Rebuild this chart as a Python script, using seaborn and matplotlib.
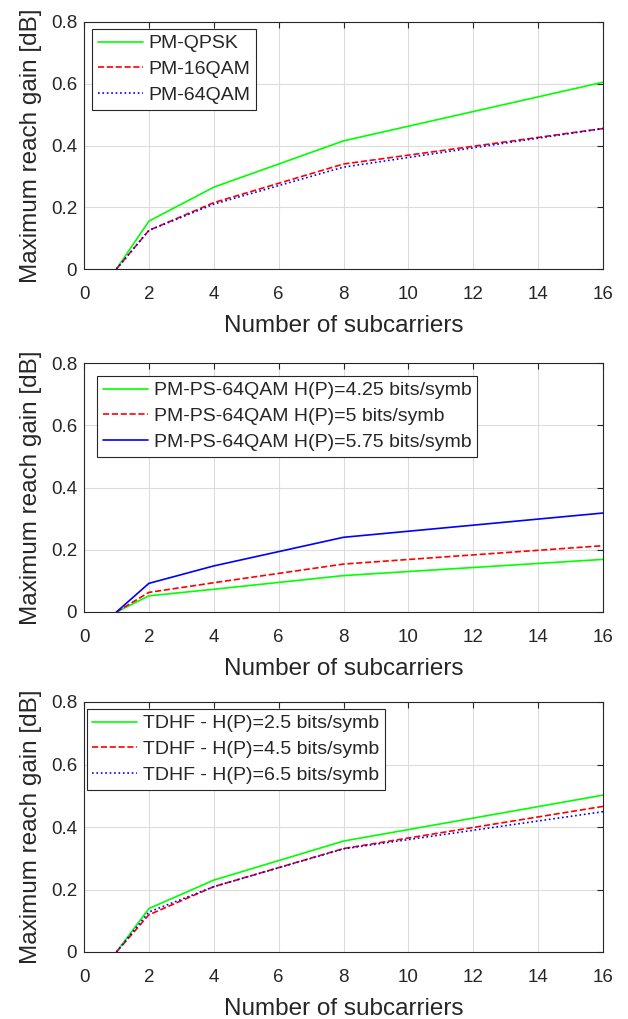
import matplotlib.pyplot as plt
import pandas as pd
import seaborn as sns

subcarriers = [1, 2, 4, 8, 16]

qpsk = [0, 0.155, 0.265, 0.415, 0.605]
qam16 = [0, 0.125, 0.215, 0.340, 0.455]
qam64 = [0, 0.125, 0.210, 0.330, 0.455]

ps_425 = [0, 0.052, 0.073, 0.117, 0.169]
ps_5 = [0, 0.063, 0.094, 0.154, 0.213]
ps_575 = [0, 0.092, 0.148, 0.240, 0.318]

tdhf_25 = [0, 0.139, 0.230, 0.355, 0.502]
tdhf_45 = [0, 0.119, 0.209, 0.331, 0.466]
tdhf_65 = [0, 0.128, 0.209, 0.330, 0.449]

panels = [
    [("PM-QPSK", qpsk, "#00ff00", "-"),
     ("PM-16QAM", qam16, "#ff0000", "--"),
     ("PM-64QAM", qam64, "#0000ff", ":")],
    [("PM-PS-64QAM H(P)=4.25 bits/symb", ps_425, "#00ff00", "-"),
     ("PM-PS-64QAM H(P)=5 bits/symb", ps_5, "#ff0000", "--"),
     ("PM-PS-64QAM H(P)=5.75 bits/symb", ps_575, "#0000ff", "-")],
    [("TDHF - H(P)=2.5 bits/symb", tdhf_25, "#00ff00", "-"),
     ("TDHF - H(P)=4.5 bits/symb", tdhf_45, "#ff0000", "--"),
     ("TDHF - H(P)=6.5 bits/symb", tdhf_65, "#0000ff", ":")],
]

sns.set_style("white")
plt.rcParams["font.family"] = ["Liberation Sans", "DejaVu Sans"]

fig = plt.figure(figsize=(6.28, 10.19), dpi=100)
W, H = 628, 1019
boxes = [(84, 22, 603, 269), (84, 363, 603, 612), (84, 702, 603, 952)]
legend_anchors = [(0.0154, 0.972), (0.026, 0.948), (0.005, 0.972)]

for (x0, y0, x1, y1), series, anchor in zip(boxes, panels, legend_anchors):
    ax = fig.add_axes([x0 / W, 1 - y1 / H, (x1 - x0) / W, (y1 - y0) / H])
    for label, vals, color, ls in series:
        df = pd.DataFrame({"x": subcarriers, "y": vals})
        sns.lineplot(data=df, x="x", y="y", ax=ax, color=color, linestyle=ls,
                     linewidth=1.2, label=label)
    ax.set_xlim(0, 16)
    ax.set_ylim(0, 0.8)
    ax.set_xticks(range(0, 17, 2))
    ax.set_yticks([0, 0.2, 0.4, 0.6, 0.8])
    ax.set_yticklabels(["0", "0.2", "0.4", "0.6", "0.8"])
    ax.grid(True, color="#dcdcdc", linewidth=0.8)
    ax.tick_params(direction="in", top=True, right=True, length=4,
                   labelsize=13.5, color="#262626", labelcolor="#262626")
    ax.tick_params(axis="x", pad=12)
    ax.tick_params(axis="y", pad=5)
    for s in ax.spines.values():
        s.set_color("#262626")
        s.set_linewidth(0.8)
    ax.set_xlabel("Number of subcarriers", fontsize=17.5, labelpad=9,
                  color="#262626")
    ax.set_ylabel("Maximum reach gain [dB]", fontsize=17.5, labelpad=6,
                  color="#262626")
    leg = ax.legend(loc="upper left", bbox_to_anchor=anchor, fontsize=14,
                    fancybox=False, framealpha=1, edgecolor="#262626",
                    handlelength=2.3, borderpad=0.3, labelspacing=0.42,
                    handletextpad=0.3, borderaxespad=0)
    leg.get_frame().set_linewidth(0.8)

fig.savefig("out.png", dpi=100)
